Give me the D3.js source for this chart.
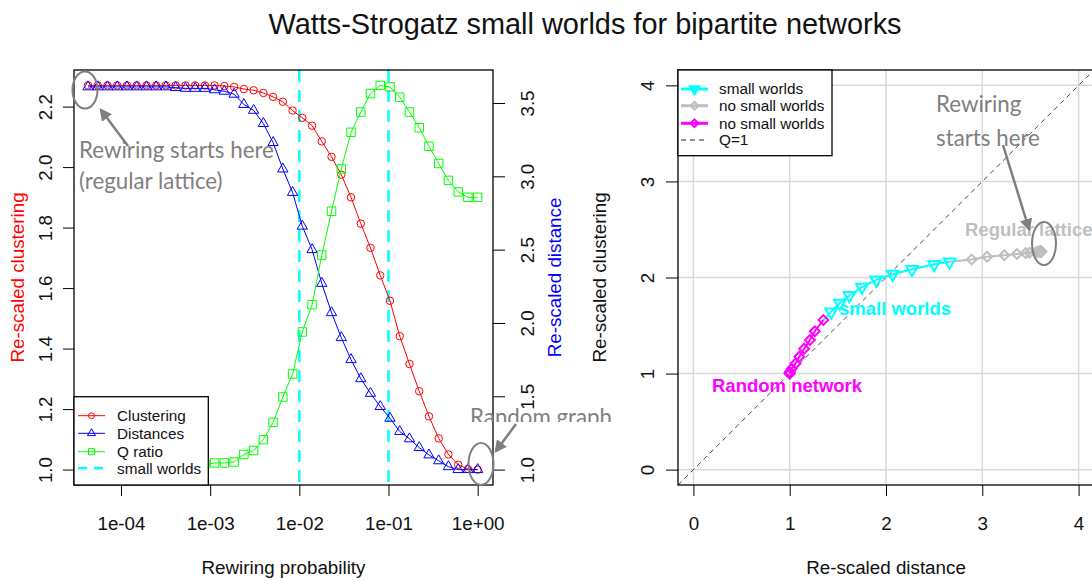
<!DOCTYPE html>
<html>
<head>
<meta charset="utf-8">
<script src="https://cdn.jsdelivr.net/npm/d3@7"></script>
<style>
body{margin:0;background:#fff;}
svg{display:block;font-family:"Liberation Sans",Arial,sans-serif;}
</style>
</head>
<body>
<div id="chart"></div>
<script>
// Watts-Strogatz rewiring curves

const prob = [4.27e-5, 5.48e-5, 7.06e-5, 9.07e-5, 1.167e-4, 1.50e-4, 1.93e-4, 2.48e-4, 3.19e-4, 4.10e-4,
              5.28e-4, 6.79e-4, 8.73e-4, 1.122e-3, 1.443e-3, 1.856e-3, 2.388e-3, 3.07e-3, 3.95e-3, 5.08e-3,
              6.53e-3, 8.40e-3, 0.0108, 0.0139, 0.01786, 0.02297, 0.02954, 0.0380, 0.0489, 0.0628,
              0.0808, 0.1039, 0.1337, 0.1719, 0.2211, 0.2843, 0.3656, 0.4701, 0.6046, 0.7775, 1.0];

const clustering = [2.27, 2.27, 2.27, 2.27, 2.27, 2.27, 2.27, 2.27, 2.27, 2.27,
                    2.27, 2.27, 2.27, 2.27, 2.268, 2.265, 2.258, 2.254, 2.245, 2.232,
                    2.216, 2.187, 2.163, 2.137, 2.085, 2.034, 1.975, 1.900, 1.813, 1.733,
                    1.642, 1.558, 1.441, 1.349, 1.259, 1.176, 1.103, 1.050, 1.016, 1.002, 1.0];

const distances = [3.61, 3.61, 3.61, 3.61, 3.61, 3.61, 3.61, 3.61, 3.61, 3.605,
                   3.60, 3.60, 3.60, 3.59, 3.58, 3.56, 3.49, 3.45, 3.36, 3.23,
                   3.05, 2.89, 2.66, 2.50, 2.27, 2.07, 1.90, 1.75, 1.62, 1.52,
                   1.43, 1.35, 1.26, 1.21, 1.15, 1.10, 1.06, 1.02, 1.0, 1.0, 1.0];

const qratio = [1.0, 1.0, 1.0, 1.0, 1.0, 1.0, 1.002, 1.004, 1.006, 1.008,
                1.01, 1.012, 1.017, 1.022, 1.022, 1.025, 1.050, 1.063, 1.099, 1.156,
                1.240, 1.316, 1.455, 1.545, 1.709, 1.854, 1.994, 2.115, 2.182, 2.243,
                2.270, 2.265, 2.231, 2.182, 2.130, 2.069, 2.012, 1.956, 1.918, 1.900, 1.900];

const smallWorld = [0.01, 0.1];

const xTicks = [1e-4, 1e-3, 1e-2, 1e-1, 1];
const xTickLabels = ["1e-04", "1e-03", "1e-02", "1e-01", "1e+00"];
const clustTicks = [1.0, 1.2, 1.4, 1.6, 1.8, 2.0, 2.2];
const distTicks = [1.0, 1.5, 2.0, 2.5, 3.0, 3.5];
const rightTicks = [0, 1, 2, 3, 4];

const leftLegend = ["Clustering", "Distances", "Q ratio", "small worlds"];
const rightLegend = ["small worlds", "no small worlds", "no small worlds", "Q=1"];

const W = 1092, H = 581;
const GREY = "#7f7f7f";
const FS = 18.8;

const svg = d3.select("#chart").append("svg")
  .attr("width", W)
  .attr("height", H);

const defs = svg.append("defs");
defs.append("marker")
  .attr("id", "arrow")
  .attr("viewBox", "0 0 10 10")
  .attr("refX", 8).attr("refY", 5)
  .attr("markerWidth", 5).attr("markerHeight", 5)
  .attr("markerUnits", "strokeWidth")
  .attr("orient", "auto")
  .append("path")
  .attr("d", "M0,0 L10,5 L0,10 z")
  .attr("fill", GREY);

svg.append("text")
  .attr("x", 585).attr("y", 34)
  .attr("text-anchor", "middle")
  .attr("font-size", 28.9)
  .attr("fill", "#111")
  .text("Watts-Strogatz small worlds for bipartite networks");

// ---------- left panel ----------
const lb = {left: 74, right: 493, top: 70, bottom: 485};

const x = d3.scaleLog()
  .domain([Math.pow(10, -4.527), Math.pow(10, 0.172)])
  .range([lb.left, lb.right]);
const yC = d3.scaleLinear().domain([0.949, 2.321]).range([lb.bottom, lb.top]);
const yD = d3.scaleLinear().domain([0.895, 3.725]).range([lb.bottom, lb.top]);

const left = svg.append("g");

// small world bounds
left.selectAll("line.sw")
  .data(smallWorld)
  .enter()
  .append("line")
  .attr("x1", d => x(d)).attr("x2", d => x(d))
  .attr("y1", lb.top).attr("y2", lb.bottom)
  .attr("stroke", "#00ffff")
  .attr("stroke-width", 2.5)
  .attr("stroke-dasharray", "12,8");

function series(g, vals, yScale, color, type, size){
  const line = d3.line()
    .x((d, i) => x(prob[i]))
    .y(d => yScale(d));
  g.append("path")
    .datum(vals)
    .attr("d", line)
    .attr("fill", "none")
    .attr("stroke", color)
    .attr("stroke-width", 1);
  g.selectAll(null)
    .data(vals)
    .enter()
    .append("path")
    .attr("transform", (d, i) => `translate(${x(prob[i])},${yScale(d)})`)
    .attr("d", d3.symbol().type(type).size(size))
    .attr("fill", "none")
    .attr("stroke", color)
    .attr("stroke-width", 1);
}

series(left, clustering, yC, "#ff0000", d3.symbolCircle, 44);
series(left, distances, yD, "#0000ff", d3.symbolTriangle, 46);
series(left, qratio, yC, "#00ff00", d3.symbolSquare, 72);

// axes
function styleAxis(g){
  g.select(".domain").remove();
  g.selectAll(".tick line").attr("stroke", "#000");
  g.selectAll(".tick text").attr("font-size", FS).attr("fill", "#111");
}

const xAxis = left.append("g")
  .attr("transform", `translate(0,${lb.bottom})`)
  .call(d3.axisBottom(x).tickValues(xTicks).tickFormat((d, i) => xTickLabels[i]).tickSize(11).tickSizeOuter(0));
styleAxis(xAxis);
xAxis.selectAll(".tick text").attr("y", 38).attr("dy", "0.35em");

const yAxisL = left.append("g")
  .attr("transform", `translate(${lb.left},0)`)
  .call(d3.axisLeft(yC).tickValues(clustTicks).tickFormat(d3.format(".1f")).tickSize(11));
styleAxis(yAxisL);
yAxisL.selectAll(".tick text")
  .attr("x", 0).attr("dy", "0.35em").attr("text-anchor", "middle")
  .attr("transform", "translate(-29,0) rotate(-90)");

const yAxisR = left.append("g")
  .attr("transform", `translate(${lb.right},0)`)
  .call(d3.axisRight(yD).tickValues(distTicks).tickFormat(d3.format(".1f")).tickSize(12));
styleAxis(yAxisR);
yAxisR.selectAll(".tick text")
  .attr("x", 0).attr("dy", "0.35em").attr("text-anchor", "middle")
  .attr("transform", "translate(34,0) rotate(-90)");

left.append("rect")
  .attr("x", lb.left).attr("y", lb.top)
  .attr("width", lb.right - lb.left).attr("height", lb.bottom - lb.top)
  .attr("fill", "none").attr("stroke", "#000").attr("stroke-width", 1.3);

left.append("text")
  .attr("x", (lb.left + lb.right) / 2).attr("y", 574)
  .attr("text-anchor", "middle").attr("font-size", FS).attr("fill", "#111")
  .text("Rewiring probability");
left.append("text")
  .attr("transform", `translate(24,${(lb.top + lb.bottom) / 2}) rotate(-90)`)
  .attr("text-anchor", "middle").attr("font-size", FS).attr("fill", "#ff0000")
  .text("Re-scaled clustering");
left.append("text")
  .attr("transform", `translate(561,${(lb.top + lb.bottom) / 2}) rotate(-90)`)
  .attr("text-anchor", "middle").attr("font-size", FS).attr("fill", "#0000ff")
  .text("Re-scaled distance");

// legend
const lleg = left.append("g");
lleg.append("rect")
  .attr("x", lb.left).attr("y", 396.7)
  .attr("width", 134.3).attr("height", lb.bottom - 396.7)
  .attr("fill", "#fff").attr("stroke", "#000").attr("stroke-width", 1.3);
const legColors = ["#ff0000", "#0000ff", "#00ff00", "#00ffff"];
const legSyms = [d3.symbolCircle, d3.symbolTriangle, d3.symbolSquare, null];
const legY = [415.7, 433.3, 451.7, 468.3];
leftLegend.forEach(function(t, i){
  lleg.append("line")
    .attr("x1", 78).attr("x2", 105)
    .attr("y1", legY[i]).attr("y2", legY[i])
    .attr("stroke", legColors[i])
    .attr("stroke-width", i == 3 ? 2.5 : 1)
    .attr("stroke-dasharray", i == 3 ? "9,7" : null);
  if (legSyms[i]){
    lleg.append("path")
      .attr("transform", `translate(91.5,${legY[i]})`)
      .attr("d", d3.symbol().type(legSyms[i]).size(i == 2 ? 36 : 28))
      .attr("fill", "none").attr("stroke", legColors[i]);
  }
  lleg.append("text")
    .attr("x", 117).attr("y", legY[i]).attr("dy", "0.35em")
    .attr("font-size", 15.3).attr("fill", "#111")
    .text(t);
});

// annotations
const note = svg.append("g").attr("font-family", "Lato, 'Open Sans', sans-serif").attr("fill", GREY);
note.append("ellipse")
  .attr("cx", 85).attr("cy", 90).attr("rx", 12.5).attr("ry", 18.5)
  .attr("fill", "none").attr("stroke", GREY).attr("stroke-width", 2);
note.append("line")
  .attr("x1", 128).attr("y1", 146).attr("x2", 101).attr("y2", 110)
  .attr("stroke", GREY).attr("stroke-width", 2.5).attr("marker-end", "url(#arrow)");
note.append("text").attr("x", 79).attr("y", 158).attr("font-size", 22.3).text("Rewiring starts here");
note.append("text").attr("x", 79).attr("y", 189).attr("font-size", 22.3).text("(regular lattice)");

defs.append("clipPath").attr("id", "cutRG")
  .append("rect").attr("x", 0).attr("y", 0).attr("width", W).attr("height", 422);
note.append("text")
  .attr("x", 470).attr("y", 425).attr("font-size", 22.3)
  .attr("clip-path", "url(#cutRG)")
  .text("Random graph");
note.append("ellipse")
  .attr("cx", 481).attr("cy", 464).attr("rx", 12.5).attr("ry", 21)
  .attr("fill", "none").attr("stroke", GREY).attr("stroke-width", 2);
note.append("line")
  .attr("x1", 516).attr("y1", 424).attr("x2", 496).attr("y2", 451)
  .attr("stroke", GREY).attr("stroke-width", 2.5).attr("marker-end", "url(#arrow)");

// ---------- right panel ----------
const rb = {left: 678, right: 1094, top: 70, bottom: 485};
const xr = d3.scaleLinear().domain([-0.16, 4.16]).range([rb.left, rb.right]);
const yr = d3.scaleLinear().domain([-0.16, 4.16]).range([rb.bottom, rb.top]);

defs.append("clipPath").attr("id", "rclip")
  .append("rect").attr("x", rb.left).attr("y", rb.top)
  .attr("width", rb.right - rb.left).attr("height", rb.bottom - rb.top);

const right = svg.append("g");
const inner = right.append("g").attr("clip-path", "url(#rclip)");

inner.selectAll("line.gx")
  .data(rightTicks).enter().append("line")
  .attr("x1", d => xr(d)).attr("x2", d => xr(d))
  .attr("y1", rb.top).attr("y2", rb.bottom)
  .attr("stroke", "#d9d9d9").attr("stroke-width", 1.5);
inner.selectAll("line.gy")
  .data(rightTicks).enter().append("line")
  .attr("y1", d => yr(d)).attr("y2", d => yr(d))
  .attr("x1", rb.left).attr("x2", rb.right)
  .attr("stroke", "#d9d9d9").attr("stroke-width", 1.5);

inner.append("line")
  .attr("x1", xr(-0.16)).attr("y1", yr(-0.16))
  .attr("x2", xr(4.16)).attr("y2", yr(4.16))
  .attr("stroke", "#333").attr("stroke-width", 0.9)
  .attr("stroke-dasharray", "5,4");

const pts = prob.map((p, i) => ({p: p, d: distances[i], c: clustering[i], i: i}));
const grey = pts.filter(o => o.p < smallWorld[0]);
const cyan = pts.filter(o => o.p >= smallWorld[0] && o.p <= smallWorld[1]);
const mag = pts.filter(o => o.p > smallWorld[1]);

const rline = d3.line().x(o => xr(o.d)).y(o => yr(o.c));
const diamond = d3.symbol().type(d3.symbolSquare).size(48);
const downTri = d3.symbol().type(d3.symbolTriangle).size(60);

function rseries(seg, marks, color, sym, rot){
  inner.append("path").datum(seg).attr("d", rline)
    .attr("fill", "none").attr("stroke", color).attr("stroke-width", 2);
  inner.selectAll(null).data(marks).enter().append("path")
    .attr("transform", o => `translate(${xr(o.d)},${yr(o.c)}) rotate(${rot})`)
    .attr("d", sym)
    .attr("fill", "none").attr("stroke", color).attr("stroke-width", 2);
}

rseries(grey.concat([cyan[0]]), grey, "#bebebe", diamond, 45);
rseries(cyan.concat([mag[0]]), cyan, "#00ffff", downTri, 180);
rseries(mag, mag, "#ff00ff", diamond, 45);

inner.append("text").attr("x", 839).attr("y", 315)
  .attr("font-size", 18.5).attr("font-weight", "bold").attr("fill", "#00ffff")
  .text("small worlds");
inner.append("text").attr("x", 712).attr("y", 392)
  .attr("font-size", 18.5).attr("font-weight", "bold").attr("fill", "#ff00ff")
  .text("Random network");
inner.append("text").attr("x", 965).attr("y", 236)
  .attr("font-size", 18.5).attr("font-weight", "bold").attr("fill", "#c0c0c0")
  .text("Regular lattice");

const rx = right.append("g")
  .attr("transform", `translate(0,${rb.bottom})`)
  .call(d3.axisBottom(xr).tickValues(rightTicks).tickFormat(d3.format("d")).tickSize(11));
styleAxis(rx);
rx.selectAll(".tick text").attr("y", 38).attr("dy", "0.35em");

const ry = right.append("g")
  .attr("transform", `translate(${rb.left},0)`)
  .call(d3.axisLeft(yr).tickValues(rightTicks).tickFormat(d3.format("d")).tickSize(12));
styleAxis(ry);
ry.selectAll(".tick text")
  .attr("x", 0).attr("dy", "0.35em").attr("text-anchor", "middle")
  .attr("transform", "translate(-31,0) rotate(-90)");

right.append("rect")
  .attr("x", rb.left).attr("y", rb.top)
  .attr("width", rb.right - rb.left).attr("height", rb.bottom - rb.top)
  .attr("fill", "none").attr("stroke", "#000").attr("stroke-width", 1.3);

right.append("text")
  .attr("x", 886).attr("y", 574)
  .attr("text-anchor", "middle").attr("font-size", FS).attr("fill", "#111")
  .text("Re-scaled distance");
right.append("text")
  .attr("transform", `translate(606,${(rb.top + rb.bottom) / 2}) rotate(-90)`)
  .attr("text-anchor", "middle").attr("font-size", FS).attr("fill", "#111")
  .text("Re-scaled clustering");

// right legend
const rleg = right.append("g");
rleg.append("rect")
  .attr("x", rb.left).attr("y", rb.top)
  .attr("width", 154).attr("height", 85.7)
  .attr("fill", "#fff").attr("stroke", "#000").attr("stroke-width", 1.3);
const rlegColors = ["#00ffff", "#bebebe", "#ff00ff", "#222"];
const rlegY = [89, 105.7, 123.3, 140];
rightLegend.forEach(function(t, i){
  rleg.append("line")
    .attr("x1", 681).attr("x2", 708)
    .attr("y1", rlegY[i]).attr("y2", rlegY[i])
    .attr("stroke", rlegColors[i])
    .attr("stroke-width", i == 3 ? 1 : 3)
    .attr("stroke-dasharray", i == 3 ? "5,4" : null);
  if (i < 3){
    rleg.append("path")
      .attr("transform", `translate(694.5,${rlegY[i]}) rotate(${i == 0 ? 180 : 45})`)
      .attr("d", d3.symbol().type(i == 0 ? d3.symbolTriangle : d3.symbolSquare).size(i == 0 ? 40 : 30))
      .attr("fill", i == 0 ? rlegColors[i] : "none")
      .attr("stroke", rlegColors[i]).attr("stroke-width", 2);
  }
  rleg.append("text")
    .attr("x", 719).attr("y", rlegY[i]).attr("dy", "0.35em")
    .attr("font-size", 15.3).attr("fill", "#111")
    .text(t);
});

// right annotations
const rnote = svg.append("g").attr("font-family", "Lato, 'Open Sans', sans-serif").attr("fill", GREY);
rnote.append("text").attr("x", 936).attr("y", 112).attr("font-size", 22.3).text("Rewiring");
rnote.append("text").attr("x", 936).attr("y", 146).attr("font-size", 22.3).text("starts here");
rnote.append("ellipse")
  .attr("cx", 1044).attr("cy", 243.5).attr("rx", 12).attr("ry", 21.5)
  .attr("fill", "none").attr("stroke", GREY).attr("stroke-width", 2);
rnote.append("line")
  .attr("x1", 1003).attr("y1", 145).attr("x2", 1029).attr("y2", 229)
  .attr("stroke", GREY).attr("stroke-width", 2.5).attr("marker-end", "url(#arrow)");
</script>
</body>
</html>
